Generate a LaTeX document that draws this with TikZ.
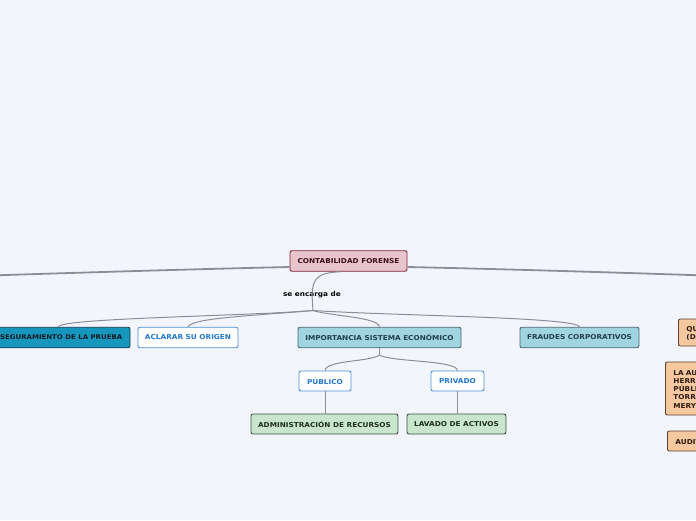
\documentclass[tikz,border=0pt]{standalone}
\usepackage{fontspec}
\setmainfont{DejaVu Sans}[FakeStretch=1.09]
\begin{document}
\begin{tikzpicture}[x=1pt,y=-1pt,
  every node/.style={font=\bfseries\fontsize{6.7}{8}\selectfont, inner sep=0pt},
  base/.style={draw, rounded corners=2pt, line width=0.9pt, align=center, minimum height=20.5pt},
  rootbox/.style={base, fill=rootfill, draw=rootdraw, text=roottext},
  tealbox/.style={base, fill=tealfill, draw=tealdraw, text=tealtext},
  whitebox/.style={base, fill=white, draw=wdraw, text=wtext},
  bluebox/.style={base, fill=bluefill, draw=bluedraw, text=bluetext},
  greenbox/.style={base, fill=greenfill, draw=greendraw, text=greentext},
  orangebox/.style={base, fill=orfill, draw=ordraw, text=ortext, align=left, anchor=west, text width=110pt, inner xsep=8pt},
  conn/.style={draw=conncol, line width=1pt},
  mainconn/.style={draw=conncol, line width=1.8pt},
]
\definecolor{bg}{HTML}{F3F5FD}
\definecolor{rootfill}{HTML}{E8C4CC}
\definecolor{rootdraw}{HTML}{7B2638}
\definecolor{roottext}{HTML}{3B0D18}
\definecolor{tealfill}{HTML}{1796BD}
\definecolor{tealdraw}{HTML}{0F3B4C}
\definecolor{tealtext}{HTML}{0A1A22}
\definecolor{wdraw}{HTML}{4A90D9}
\definecolor{wtext}{HTML}{2176D2}
\definecolor{bluefill}{HTML}{9FD4E0}
\definecolor{bluedraw}{HTML}{4B6670}
\definecolor{bluetext}{HTML}{233F4A}
\definecolor{greenfill}{HTML}{C9E6CC}
\definecolor{greendraw}{HTML}{3D5541}
\definecolor{greentext}{HTML}{1D2E1F}
\definecolor{orfill}{HTML}{F5C8A0}
\definecolor{ordraw}{HTML}{5C4030}
\definecolor{ortext}{HTML}{2A1A0F}
\definecolor{conncol}{HTML}{8D8D99}

\fill[bg] (0,0) rectangle (696,520);
\useasboundingbox (0,0) rectangle (696,520);

% coordinates for off-screen ends
\coordinate (leftend) at (-10,275.5);
\coordinate (rightend) at (706,275.5);

% nodes
\node[rootbox, minimum width=117pt] (root) at (348.5,261) {CONTABILIDAD FORENSE};
\node (sed) at (312,294.5) {se encarga de};
\node[tealbox, minimum width=143pt, font=\bfseries\fontsize{6.4}{8}\selectfont] (aseg) at (58.5,337.5) {ASEGURAMIENTO DE LA PRUEBA};
\node[whitebox, minimum width=100pt] (acl) at (188,337.5) {ACLARAR SU ORIGEN};
\node[bluebox, minimum width=163pt] (imp) at (379.5,337.5) {IMPORTANCIA SISTEMA ECONÓMICO};
\node[bluebox, minimum width=119pt] (fra) at (579.5,337.5) {FRAUDES CORPORATIVOS};
\node[whitebox, minimum width=52pt, minimum height=20pt] (pub) at (325,381) {PÚBLICO};
\node[whitebox, minimum width=53pt, minimum height=20pt] (pri) at (457.5,381) {PRIVADO};
\node[greenbox, minimum width=147pt, minimum height=20pt] (adm) at (324.5,424) {ADMINISTRACIÓN DE RECURSOS};
\node[greenbox, minimum width=99pt, minimum height=20pt] (lav) at (456.5,424) {LAVADO DE ACTIVOS};

\node[orangebox, minimum height=27pt, font=\bfseries\fontsize{6.7}{8.2}\selectfont] (que) at (678,332.5) {QUÉ ES\\(DEFINICIÓN)};
\node[orangebox, minimum height=53pt, font=\bfseries\fontsize{6.7}{8.2}\selectfont] (lau) at (665,388.5) {LA AUDITORÍA\\HERRAMIENTA\\PÚBLICA\\TORRES\\MERY};
\node[orangebox, minimum height=20pt] (aud) at (667,441) {AUDITORÍA FORENSE};

% connectors
\draw[mainconn] (root.west |- 0,267) .. controls (200,269) and (100,272) .. (leftend);
\draw[mainconn] (root.east |- 0,267) .. controls (500,269) and (600,272) .. (rightend);
\draw[conn] (root.south) ++(-8,0) coordinate (rs) .. controls (318,273) and (313,277) .. ([yshift=-4pt]sed.north);
\coordinate (bp) at (313,310.5);
\draw[conn] ([yshift=3pt]sed.south) -- (bp);
\draw[conn] (bp) .. controls (250,316) and (60,318) .. (aseg.north);
\draw[conn] (bp) .. controls (250,316) and (192,318) .. (acl.north);
\draw[conn] (bp) .. controls (330,316) and (378,317) .. (imp.north);
\draw[conn] (bp) .. controls (400,316) and (575,317) .. (fra.north);
\coordinate (bp2) at (379.5,355);
\draw[conn] (imp.south) -- (bp2);
\draw[conn] (bp2) .. controls (370,362) and (326,360) .. (pub.north);
\draw[conn] (bp2) .. controls (390,362) and (457,360) .. (pri.north);
\draw[conn] (pub.south) -- (adm.north -| pub.south);
\draw[conn] (pri.south) -- (lav.north -| pri.south);
\end{tikzpicture}
\end{document}
